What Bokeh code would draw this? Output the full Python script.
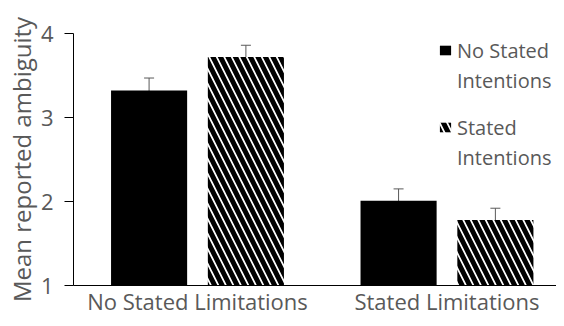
from bokeh.plotting import figure
from bokeh.models import (ColumnDataSource, Range1d, FixedTicker, Whisker, TeeHead,
                          Legend, LegendItem)
from bokeh.transform import dodge
from bokeh.embed import file_html
from bokeh.resources import INLINE

categories = ["No Stated Limitations", "Stated Limitations"]
series_a_lines = ["No Stated", "Intentions"]
series_b_lines = ["Stated", "Intentions"]
no_intentions = [3.32, 2.01]
no_intentions_err = [0.15, 0.14]
stated_intentions = [3.72, 1.78]
stated_intentions_err = [0.14, 0.14]
y_ticks = [1, 2, 3, 4]

FONT = "Open Sans"
GRAY = "#595959"
OFF = 0.194
W = 0.305

x = list(range(len(categories)))
src = ColumnDataSource(dict(
    x=x,
    a=no_intentions,
    a_up=[v + e for v, e in zip(no_intentions, no_intentions_err)],
    a_lo=[v - e for v, e in zip(no_intentions, no_intentions_err)],
    b=stated_intentions,
    b_up=[v + e for v, e in zip(stated_intentions, stated_intentions_err)],
    b_lo=[v - e for v, e in zip(stated_intentions, stated_intentions_err)],
))

p = figure(width=556, height=318, output_backend="svg", toolbar_location=None,
           x_range=Range1d(-0.497, 1.439), y_range=Range1d(1, 4),
           min_border_left=73, min_border_right=0, min_border_top=33,
           min_border_bottom=32)
p.outline_line_color = None
p.xgrid.visible = False
p.ygrid.visible = False

r1 = p.vbar(x=dodge("x", -OFF), top="a", bottom=1, width=W, source=src,
            fill_color="black", line_color=None)
r2 = p.vbar(x=dodge("x", OFF), top="b", bottom=1, width=W, source=src,
            fill_color="white", line_color=None, hatch_pattern="left_diagonal_line",
            hatch_color="black", hatch_scale=15, hatch_weight=5)
# invisible renderer used for the second line of each legend entry
blank = p.vbar(x=[], top=[], width=W, fill_alpha=0, line_alpha=0)

for col, off in (("a", -OFF), ("b", OFF)):
    wk = Whisker(source=src, base=dodge("x", off), upper=col + "_up", lower=col + "_lo",
                 line_color=GRAY, line_width=1,
                 upper_head=TeeHead(size=10, line_color=GRAY, line_width=1),
                 lower_head=TeeHead(size=10, line_color=GRAY, line_width=1))
    p.add_layout(wk)

# axes
p.yaxis.ticker = FixedTicker(ticks=y_ticks)
p.yaxis.axis_label = "Mean reported ambiguity"
p.yaxis.axis_label_text_font = FONT
p.yaxis.axis_label_text_font_size = "24px"
p.yaxis.axis_label_text_font_style = "normal"
p.yaxis.axis_label_text_color = GRAY
p.yaxis.axis_label_text_line_height = 1.0
p.yaxis.axis_label_standoff = 0
p.yaxis.major_label_text_font = FONT
p.yaxis.major_label_text_font_size = "22px"
p.yaxis.major_label_text_color = GRAY
p.yaxis.major_tick_out = 9
p.yaxis.major_tick_in = 0
p.yaxis.minor_tick_line_color = None
p.yaxis.axis_line_color = "black"
p.yaxis.major_tick_line_color = "black"
p.yaxis.major_label_standoff = 11

p.xaxis.ticker = FixedTicker(ticks=x)
p.xaxis.major_label_overrides = {i: c for i, c in zip(x, categories)}
p.xaxis.major_label_text_font = FONT
p.xaxis.major_label_text_font_size = "22px"
p.xaxis.major_label_text_color = GRAY
p.xaxis.major_label_text_line_height = 1.0
p.xaxis.major_tick_line_color = None
p.xaxis.minor_tick_line_color = None
p.xaxis.major_tick_out = 0
p.xaxis.major_tick_in = 0
p.xaxis.major_label_standoff = 0
p.xaxis.axis_line_color = "black"


def make_legend(lines, rend, loc):
    lg = Legend(items=[LegendItem(label=lines[0], renderers=[rend]),
                       LegendItem(label=lines[1], renderers=[blank])],
                location=loc, orientation="vertical")
    lg.label_text_font = FONT
    lg.label_text_font_size = "20px"
    lg.label_text_color = GRAY
    lg.label_height = 30
    lg.glyph_width = 14
    lg.glyph_height = 12
    lg.label_standoff = 5
    lg.padding = 0
    lg.margin = 0
    lg.spacing = 0
    lg.border_line_color = None
    lg.background_fill_alpha = 0
    return lg


p.add_layout(make_legend(series_a_lines, r1, (365, 190)), "center")
p.add_layout(make_legend(series_b_lines, r2, (365, 113)), "center")

open("out.html", "w").write(file_html(p, INLINE))
